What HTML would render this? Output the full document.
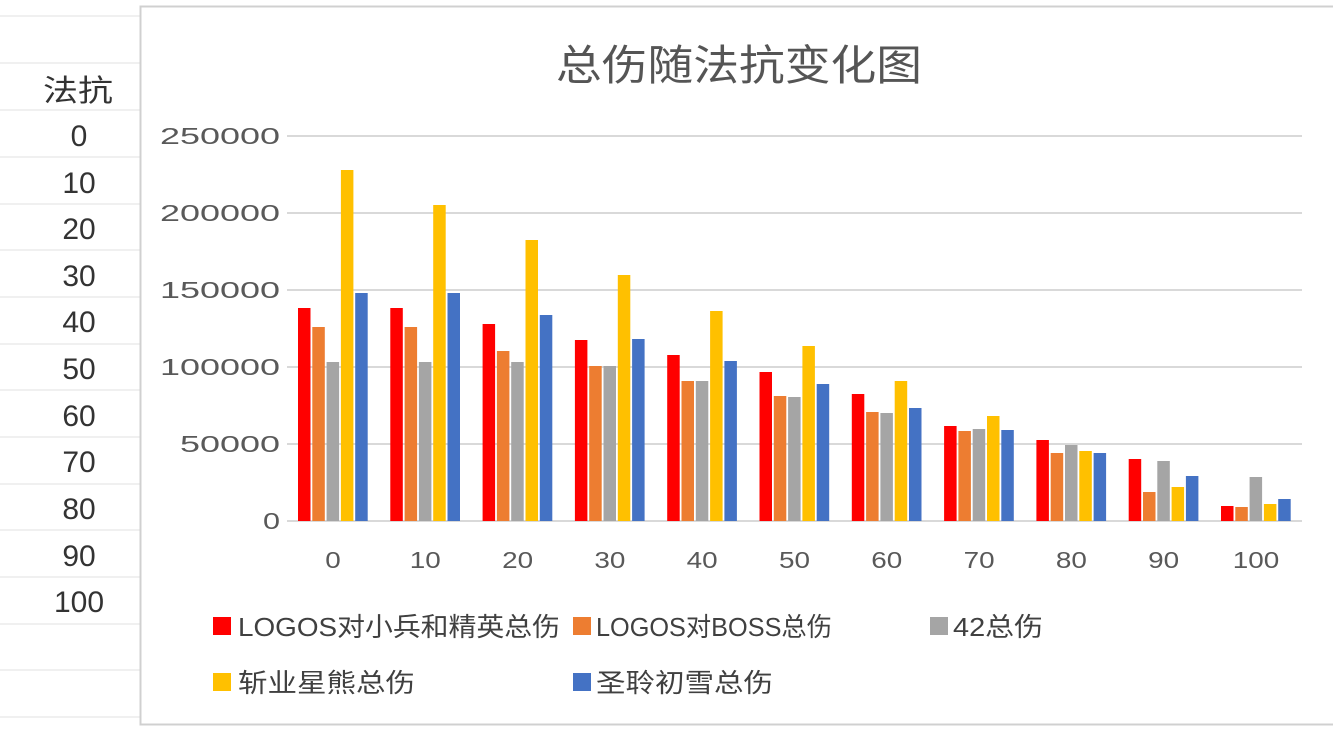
<!DOCTYPE html>
<html><head><meta charset="utf-8"><style>
body{margin:0;width:1333px;height:729px;background:#fff;overflow:hidden;font-family:"Liberation Sans","Noto Sans CJK SC",sans-serif;}
</style></head><body>
<svg width="1333" height="729" xmlns="http://www.w3.org/2000/svg" font-family="Liberation Sans, Noto Sans CJK SC, sans-serif">
<g stroke="#e2e2e2" stroke-width="1">
<line x1="0" y1="16" x2="140" y2="16"/><line x1="0" y1="63" x2="140" y2="63"/><line x1="0" y1="110" x2="140" y2="110"/>
<line x1="0" y1="157" x2="140" y2="157"/><line x1="0" y1="204" x2="140" y2="204"/><line x1="0" y1="250" x2="140" y2="250"/>
<line x1="0" y1="297" x2="140" y2="297"/><line x1="0" y1="344" x2="140" y2="344"/><line x1="0" y1="390" x2="140" y2="390"/>
<line x1="0" y1="437" x2="140" y2="437"/><line x1="0" y1="484" x2="140" y2="484"/><line x1="0" y1="530" x2="140" y2="530"/>
<line x1="0" y1="577" x2="140" y2="577"/><line x1="0" y1="624" x2="140" y2="624"/><line x1="0" y1="670" x2="140" y2="670"/>
<line x1="0" y1="717" x2="140" y2="717"/>
</g>
<g font-size="30" fill="#333" text-anchor="middle">
<text x="43" y="101" text-anchor="start" textLength="70" lengthAdjust="spacingAndGlyphs">法抗</text>
<text x="79" y="146">0</text><text x="79" y="193">10</text><text x="79" y="239">20</text><text x="79" y="286">30</text>
<text x="79" y="332">40</text><text x="79" y="379">50</text><text x="79" y="426">60</text><text x="79" y="472">70</text>
<text x="79" y="519">80</text><text x="79" y="566">90</text><text x="79" y="612">100</text>
</g>
<rect x="140.5" y="6.5" width="1200" height="718" fill="#fff" stroke="#d0d0d0" stroke-width="2"/>
<text x="556" y="80" font-size="42" fill="#555" textLength="366" lengthAdjust="spacingAndGlyphs">总伤随法抗变化图</text>
<g stroke="#d9d9d9" stroke-width="2">
<line x1="287" y1="136" x2="1302" y2="136"/><line x1="287" y1="213" x2="1302" y2="213"/>
<line x1="287" y1="290" x2="1302" y2="290"/><line x1="287" y1="367" x2="1302" y2="367"/>
<line x1="287" y1="444" x2="1302" y2="444"/><line x1="287" y1="521" x2="1302" y2="521"/>
</g>
<g font-size="23" fill="#595959">
<text x="160" y="144" textLength="120" lengthAdjust="spacingAndGlyphs">250000</text>
<text x="160" y="221" textLength="120" lengthAdjust="spacingAndGlyphs">200000</text>
<text x="160" y="298" textLength="120" lengthAdjust="spacingAndGlyphs">150000</text>
<text x="160" y="375" textLength="120" lengthAdjust="spacingAndGlyphs">100000</text>
<text x="180" y="452" textLength="100" lengthAdjust="spacingAndGlyphs">50000</text>
<text x="263" y="529" textLength="17" lengthAdjust="spacingAndGlyphs">0</text>
</g>
<g id="bars"></g>
<g font-size="23" fill="#595959" id="xl"></g>
<g font-size="26" fill="#404040">
<rect x="213" y="617" width="18" height="18" fill="#ff0000"/><text x="238" y="636" textLength="322" lengthAdjust="spacingAndGlyphs">LOGOS对小兵和精英总伤</text>
<rect x="573" y="617" width="18" height="18" fill="#ed7d31"/><text x="596" y="636" textLength="236" lengthAdjust="spacingAndGlyphs">LOGOS对BOSS总伤</text>
<rect x="930" y="617" width="18" height="18" fill="#a5a5a5"/><text x="953" y="636" textLength="90" lengthAdjust="spacingAndGlyphs">42总伤</text>
<rect x="213" y="673" width="18" height="18" fill="#ffc000"/><text x="238" y="692" textLength="177" lengthAdjust="spacingAndGlyphs">斩业星熊总伤</text>
<rect x="573" y="673" width="18" height="18" fill="#4472c4"/><text x="596" y="692" textLength="177" lengthAdjust="spacingAndGlyphs">圣聆初雪总伤</text>
</g>
</svg>
<script>
var tops=[[308,327,362,170,293],[308,327,362,205,293],[324,351,362,240,315],[340,366,366,275,339],[355,381,381,311,361],[372,396,397,346,384],[394,412,413,381,408],[426,431,429,416,430],[440,453,445,451,453],[459,492,461,487,476],[506,507,477,504,499]];
var cols=["#ff0000","#ed7d31","#a5a5a5","#ffc000","#4472c4"];
var ns="http://www.w3.org/2000/svg",g=document.getElementById("bars"),xl=document.getElementById("xl");
for(var i=0;i<11;i++){var c=333+92.3*i;
for(var j=0;j<5;j++){var r=document.createElementNS(ns,"rect");var x=c-35+j*14.3;
r.setAttribute("x",x);r.setAttribute("y",tops[i][j]);r.setAttribute("width",12.5);r.setAttribute("height",521-tops[i][j]);r.setAttribute("fill",cols[j]);g.appendChild(r);}
var s=String(i*10),w=s.length*15.5;
var t=document.createElementNS(ns,"text");t.setAttribute("x",c-w/2);t.setAttribute("y",568);t.setAttribute("textLength",w);t.setAttribute("lengthAdjust","spacingAndGlyphs");t.textContent=s;xl.appendChild(t);}
</script>
</body></html>
